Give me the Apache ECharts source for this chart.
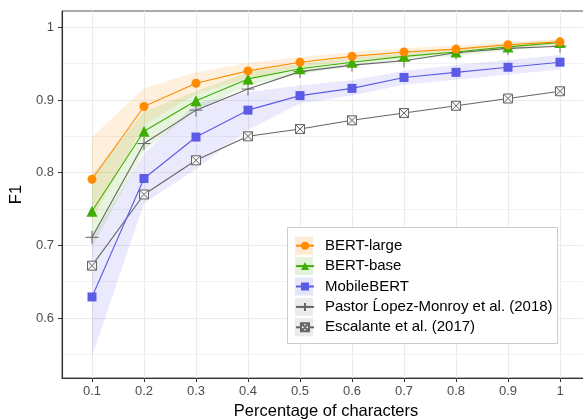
<!DOCTYPE html>
<html>
<head>
<meta charset="utf-8">
<script src="https://cdn.jsdelivr.net/npm/echarts@6/dist/echarts.min.js"></script>
<style>
  html, body { margin: 0; padding: 0; background: #fff; }
  #chart { width: 583px; height: 419px; }
</style>
</head>
<body>
<div id="chart"></div>
<script>
/* data */
var pct = [0.1, 0.2, 0.3, 0.4, 0.5, 0.6, 0.7, 0.8, 0.9, 1.0];

var bertLarge     = [0.791, 0.891, 0.923, 0.940, 0.952, 0.960, 0.966, 0.970, 0.976, 0.980];
var bertLargeLow  = [0.735, 0.866, 0.908, 0.930, 0.945, 0.954, 0.961, 0.965, 0.972, 0.976];
var bertLargeHigh = [0.849, 0.916, 0.938, 0.951, 0.959, 0.966, 0.971, 0.975, 0.980, 0.984];

var bertBase      = [0.747, 0.857, 0.899, 0.929, 0.943, 0.952, 0.960, 0.966, 0.973, 0.979];
var bertBaseLow   = [0.697, 0.830, 0.886, 0.920, 0.936, 0.946, 0.955, 0.961, 0.968, 0.975];
var bertBaseHigh  = [0.797, 0.884, 0.912, 0.938, 0.950, 0.958, 0.965, 0.971, 0.978, 0.983];

var mobileBert     = [0.629, 0.792, 0.849, 0.886, 0.906, 0.916, 0.931, 0.938, 0.945, 0.952];
var mobileBertLow  = [0.547, 0.758, 0.805, 0.859, 0.895, 0.906, 0.921, 0.928, 0.935, 0.942];
var mobileBertHigh = [0.711, 0.826, 0.895, 0.911, 0.920, 0.927, 0.940, 0.948, 0.955, 0.962];

var pastor    = [0.711, 0.840, 0.886, 0.915, 0.939, 0.948, 0.954, 0.965, 0.971, 0.974];
var escalante = [0.672, 0.770, 0.817, 0.850, 0.860, 0.872, 0.882, 0.892, 0.902, 0.912];

var xTicks = [0.1, 0.2, 0.3, 0.4, 0.5, 0.6, 0.7, 0.8, 0.9, 1];
var yTicks = [0.6, 0.7, 0.8, 0.9, 1];
var yMinor = [0.55, 0.65, 0.75, 0.85, 0.95];

var names = ['BERT-large', 'BERT-base', 'MobileBERT',
             'Pastor Ĺopez-Monroy et al. (2018)', 'Escalante et al. (2017)'];

/* helpers */
function pairs(vals) {
    return pct.map(function (x, i) { return [x, vals[i]]; });
}
// ribbon drawn as one polygon through the axes' own scales
function band(lo, hi, color) {
    return {
        type: 'custom',
        silent: true,
        z: 1,
        clip: true,
        data: pct.map(function (x, i) { return [x, lo[i], hi[i]]; }),
        encode: { x: 0, y: [1, 2] },
        renderItem: function (params, api) {
            if (params.dataIndex !== 0) return;
            var pts = [];
            var i;
            for (i = 0; i < pct.length; i++) pts.push(api.coord([pct[i], hi[i]]));
            for (i = pct.length - 1; i >= 0; i--) pts.push(api.coord([pct[i], lo[i]]));
            return {
                type: 'polygon',
                shape: { points: pts },
                style: { fill: color }
            };
        }
    };
}

var gray = '#666666';
var font = 'Liberation Sans, Arial, Helvetica, sans-serif';

var xboxPath = 'path://M0,0 L10,0 L10,10 L0,10 Z M0,0 L10,10 M10,0 L0,10';
var plusPath = 'path://M5,0 L5,10 M0,5 L10,5';

var yMin = 0.6 - 60 / 727;
var yMax = 1 + 16.3 / 727;

var series = [
    band(bertLargeLow, bertLargeHigh, 'rgba(255,140,0,0.13)'),
    band(bertBaseLow, bertBaseHigh, 'rgba(70,175,0,0.13)'),
    band(mobileBertLow, mobileBertHigh, 'rgba(90,90,230,0.13)'),
    {
        name: names[4], type: 'line', data: pairs(escalante),
        symbol: xboxPath, symbolSize: 9,
        lineStyle: { color: gray, width: 1.1 },
        itemStyle: { color: '#f4f4f4', borderColor: gray, borderWidth: 1 },
        z: 3
    },
    {
        name: names[3], type: 'line', data: pairs(pastor),
        symbol: plusPath, symbolSize: 13,
        lineStyle: { color: gray, width: 1.1 },
        itemStyle: { color: gray, borderColor: gray, borderWidth: 1 },
        z: 3
    },
    {
        name: names[2], type: 'line', data: pairs(mobileBert),
        symbol: 'rect', symbolSize: 9,
        lineStyle: { color: '#5b5be6', width: 1.1 },
        itemStyle: { color: '#5b5be6' },
        z: 4
    },
    {
        name: names[1], type: 'line', data: pairs(bertBase),
        symbol: 'triangle', symbolSize: 11,
        lineStyle: { color: '#3fae00', width: 1.1 },
        itemStyle: { color: '#3fae00' },
        z: 5
    },
    {
        name: names[0], type: 'line', data: pairs(bertLarge),
        symbol: 'circle', symbolSize: 9,
        lineStyle: { color: '#ff8c00', width: 1.1 },
        itemStyle: { color: '#ff8c00' },
        z: 6
    }
];

/* legend box and key backgrounds */
var keyFill = ['#fdebd5', '#e3f3da', '#e5e5fa', '#ebebeb', '#ebebeb'];
var rowTop = 238.2, rowStep = 20.4;
var graphics = [{
    type: 'rect', z: 6,
    shape: { x: 287.5, y: 227.5, width: 270, height: 116 },
    style: { fill: '#fff', stroke: '#cccccc', lineWidth: 1 }
}];
keyFill.forEach(function (c, i) {
    graphics.push({
        type: 'rect', z: 7,
        shape: { x: 295, y: rowTop + 7.5 - 9 + i * rowStep, width: 18, height: 18 },
        style: { fill: c }
    });
});

var option = {
    animation: false,
    backgroundColor: '#fff',
    grid: {
        left: 62, top: 11, right: -7, bottom: 41,
        outerBoundsMode: 'none',
        containLabel: false,
        show: true, borderColor: '#555', borderWidth: 1,
        backgroundColor: 'transparent'
    },
    legend: {
        data: names,
        orient: 'vertical',
        left: 295, top: rowTop,
        padding: 0,
        itemWidth: 18, itemHeight: 10, itemGap: rowStep - 15,
        z: 10,
        textStyle: {
            fontFamily: font, fontSize: 15, color: '#000',
            padding: [0, 0, 0, 6]
        }
    },
    graphic: graphics,
    xAxis: {
        type: 'value',
        min: 0.1 - 30 / 520, max: 1 + 30 / 520,
        name: 'Percentage of characters',
        nameLocation: 'middle', nameGap: 24,
        nameTextStyle: { fontFamily: font, fontSize: 16.5, color: '#000' },
        axisLine: { show: true, onZero: false, lineStyle: { color: '#333', width: 1.1 } },
        axisTick: { show: true, length: 4, lineStyle: { color: '#333' }, customValues: xTicks },
        axisLabel: { customValues: xTicks, margin: 7, fontFamily: font, fontSize: 13, color: '#4d4d4d' },
        splitLine: { show: true, lineStyle: { color: '#ebebeb', width: 1.1 } }
    },
    yAxis: [{
        type: 'value',
        min: yMin, max: yMax,
        name: 'F1',
        nameLocation: 'middle', nameGap: 34,
        nameTextStyle: { fontFamily: font, fontSize: 16.5, color: '#000' },
        axisLine: { show: true, onZero: false, lineStyle: { color: '#333', width: 1.1 } },
        axisTick: { show: true, length: 4, lineStyle: { color: '#333' }, customValues: yTicks },
        axisLabel: { customValues: yTicks, margin: 8, fontFamily: font, fontSize: 13, color: '#4d4d4d' },
        splitLine: { show: true, lineStyle: { color: '#ebebeb', width: 1.1 } }
    }, {
        type: 'value',
        position: 'left',
        min: yMin, max: yMax,
        axisLine: { show: false },
        axisTick: { show: false, customValues: yMinor },
        axisLabel: { show: false, customValues: yMinor },
        splitLine: { show: true, lineStyle: { color: '#f2f2f2', width: 1 } }
    }],
    series: series
};

var chart = echarts.init(document.getElementById('chart'));
chart.setOption(option);
</script>
</body>
</html>
